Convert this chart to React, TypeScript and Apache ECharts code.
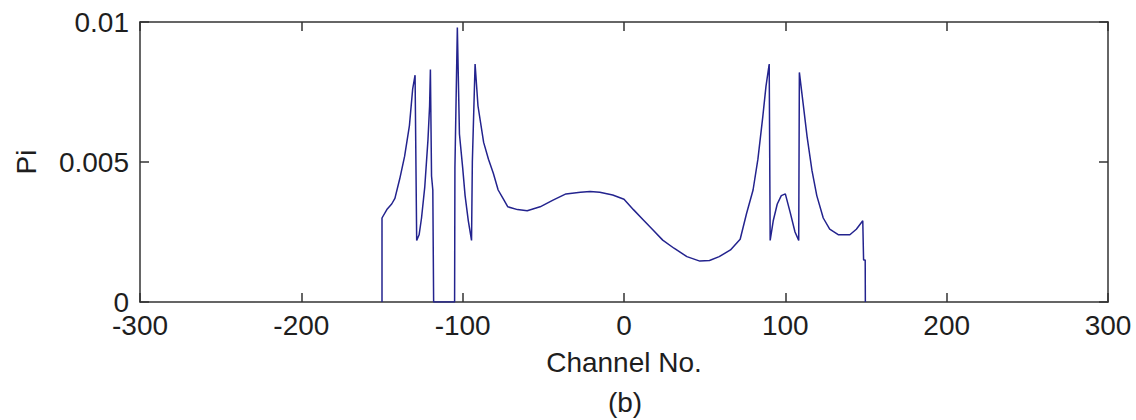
import React, { useEffect, useRef } from "react";
import * as echarts from "echarts";

const channels: number[] = [
  -150, -150, -147, -144, -142, -139, -136, -133, -131, -129.5, -128.5, -127, -125.5, -123.5, -121.5, -120.5, -120,
  -119.3, -118.5, -118, -105, -104.8, -103.3, -102, -100, -98.5, -96.5, -94.5, -94, -92.3, -90.5, -87, -84, -81, -78,
  -75, -72, -66, -60, -52, -44, -36, -27, -21, -15, -7, 0, 6, 12, 18, 24, 31, 39, 47, 53, 59, 66, 72, 76, 80, 83, 86,
  88, 90, 90.6, 92.5, 95, 97.5, 100, 103, 106, 108.3, 108.7, 111, 113.5, 116.5, 119.5, 123.5, 127.5, 133, 140, 144,
  148, 148.5, 149.5, 149.6,
];
const piValues: number[] = [
  0, 0.003, 0.0033, 0.0035, 0.0037, 0.0044, 0.0052, 0.0063, 0.0076, 0.0081, 0.0022, 0.0024, 0.003, 0.0041, 0.0058,
  0.007, 0.0083, 0.0045, 0.004, 0, 0, 0.0048, 0.0098, 0.006, 0.0048, 0.0038, 0.0029, 0.0022, 0.005, 0.0085, 0.007,
  0.0057, 0.0051, 0.0046, 0.004, 0.0037, 0.0034, 0.0033, 0.00326, 0.0034, 0.00364, 0.00386, 0.00392, 0.00395, 0.00392,
  0.00382, 0.00367, 0.00329, 0.00293, 0.00257, 0.00221, 0.00192, 0.00162, 0.00146, 0.00148, 0.00162, 0.00186, 0.00224,
  0.00317, 0.004, 0.0051, 0.0066, 0.0077, 0.0085, 0.0022, 0.0029, 0.0035, 0.0038, 0.00386, 0.0032, 0.0025, 0.0022,
  0.0082, 0.0071, 0.0059, 0.0047, 0.0038, 0.003, 0.0026, 0.0024, 0.0024, 0.0026, 0.0029, 0.0015, 0.0015, 0,
];
const xTicks = { min: -300, max: 300, interval: 100 };
const yTicks = { min: 0, max: 0.01, interval: 0.005 };

const font = "Liberation Sans, Arial, sans-serif";
const textColor = "#1e1e1e";
const frameColor = "#333";
const fs = 28;

export default function App() {
  const ref = useRef<HTMLDivElement>(null);
  useEffect(() => {
    if (!ref.current) return;
    const chart = echarts.init(ref.current, undefined, { renderer: "svg" });
    const data = channels.map((c, i) => [c, piValues[i]]);
    const axisLine = { show: true, onZero: false, lineStyle: { color: frameColor, width: 1.5 } };
    const axisTick = { show: true, inside: true, length: 9, lineStyle: { color: frameColor, width: 1.5 } };
    chart.setOption({
      animation: false,
      backgroundColor: "#fff",
      grid: { left: 140, top: 22, right: 28, bottom: 118, containLabel: false },
      xAxis: [
        {
          type: "value",
          ...xTicks,
          position: "bottom",
          axisLine,
          axisTick,
          splitLine: { show: false },
          axisLabel: { color: textColor, fontFamily: font, fontSize: fs, lineHeight: 22, margin: 12 },
          name: "Channel No.",
          nameLocation: "middle",
          nameGap: 47,
          nameTextStyle: { color: textColor, fontFamily: font, fontSize: fs, lineHeight: 26 },
        },
        {
          type: "value",
          ...xTicks,
          position: "top",
          axisLine,
          axisTick,
          splitLine: { show: false },
          axisLabel: { show: false },
        },
      ],
      yAxis: [
        {
          type: "value",
          ...yTicks,
          position: "left",
          axisLine,
          axisTick,
          splitLine: { show: false },
          axisLabel: {
            color: textColor,
            fontFamily: font,
            fontSize: fs,
            lineHeight: 18,
            margin: 11,
            formatter: (v: number) => (v === 0 ? "0" : String(Number(v.toFixed(4)))),
          },
          name: "Pi",
          nameLocation: "middle",
          nameGap: 100,
          nameRotate: 90,
          nameTextStyle: { color: textColor, fontFamily: font, fontSize: fs },
        },
        {
          type: "value",
          ...yTicks,
          position: "right",
          axisLine,
          axisTick,
          splitLine: { show: false },
          axisLabel: { show: false },
        },
      ],
      graphic: [
        {
          type: "text",
          x: 625,
          y: 388,
          style: { text: "(b)", fill: textColor, font: `${fs}px ${font}`, textAlign: "center", textVerticalAlign: "top" },
        },
      ],
      series: [
        {
          type: "line",
          data,
          xAxisIndex: 0,
          yAxisIndex: 0,
          showSymbol: false,
          symbol: "none",
          lineStyle: { color: "#23238e", width: 1.5 },
          clip: true,
        },
      ],
    });
    return () => chart.dispose();
  }, []);
  return (
    <div
      ref={ref}
      style={{ position: "fixed", left: 0, top: 0, width: 1136, height: 420, background: "#fff" }}
    />
  );
}
